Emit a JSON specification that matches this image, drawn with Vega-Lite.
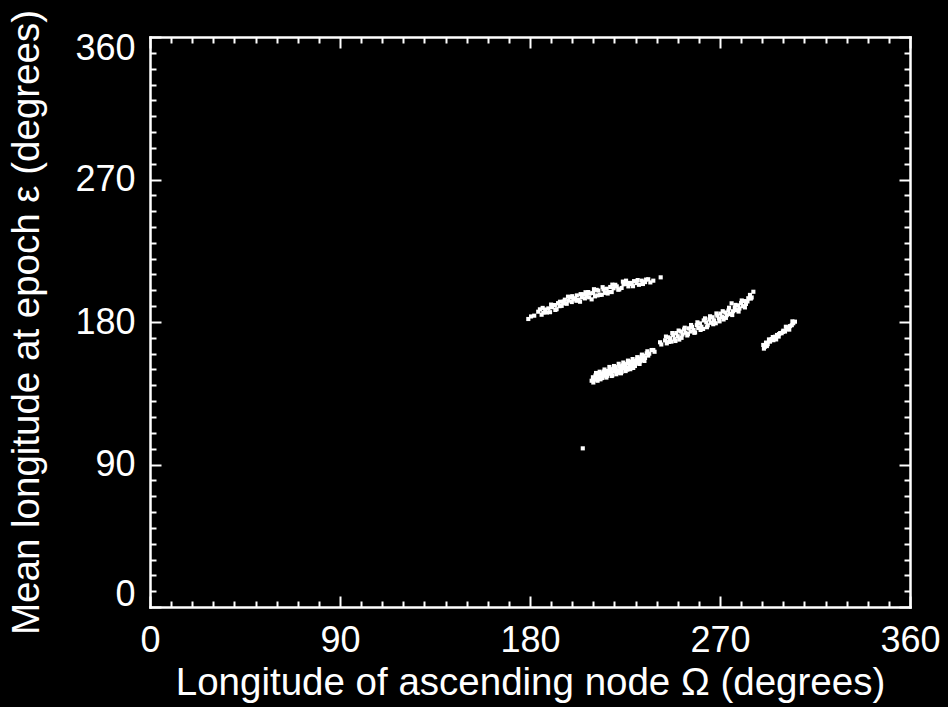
{
  "$schema": "https://vega.github.io/schema/vega-lite/v6.json",
  "width": 760,
  "height": 570,
  "autosize": "none",
  "padding": {"left": 150, "top": 37, "right": 38, "bottom": 100},
  "background": "black",
  "config": {
    "view": {"stroke": null},
    "axis": {
      "domainColor": "white", "domainWidth": 2.5, "domainCap": "square",
      "tickColor": "white", "tickWidth": 2,
      "labelColor": "white", "titleColor": "white",
      "labelFont": "Liberation Sans", "titleFont": "Liberation Sans",
      "labelFontSize": 36, "titleFontSize": 38.5, "titleFontWeight": "normal",
      "grid": false, "labelOverlap": false
    }
  },
  "data": {"values": [
    {"node": 205.0, "eps": 100.2},
    {"node": 179.2, "eps": 181.9}, {"node": 183.9, "eps": 186.5}, {"node": 184.7, "eps": 188.0}, {"node": 185.5, "eps": 184.6},
    {"node": 186.3, "eps": 185.9}, {"node": 187.2, "eps": 187.9}, {"node": 188.7, "eps": 188.6}, {"node": 189.5, "eps": 186.2},
    {"node": 190.4, "eps": 189.3}, {"node": 191.8, "eps": 190.7}, {"node": 192.6, "eps": 188.1}, {"node": 193.3, "eps": 191.9},
    {"node": 194.2, "eps": 192.8}, {"node": 195.0, "eps": 190.2}, {"node": 195.8, "eps": 191.8}, {"node": 196.5, "eps": 194.1},
    {"node": 197.4, "eps": 191.5}, {"node": 198.2, "eps": 193.5}, {"node": 199.0, "eps": 195.6}, {"node": 199.8, "eps": 192.6},
    {"node": 200.5, "eps": 194.3}, {"node": 201.3, "eps": 195.0}, {"node": 202.2, "eps": 196.8}, {"node": 203.0, "eps": 194.0},
    {"node": 203.7, "eps": 192.8}, {"node": 204.5, "eps": 195.6}, {"node": 205.4, "eps": 197.5}, {"node": 206.0, "eps": 194.9},
    {"node": 206.8, "eps": 196.4}, {"node": 207.6, "eps": 198.9}, {"node": 208.4, "eps": 198.1}, {"node": 209.2, "eps": 194.3},
    {"node": 210.0, "eps": 198.3}, {"node": 210.8, "eps": 196.2}, {"node": 211.6, "eps": 200.3}, {"node": 212.4, "eps": 199.8},
    {"node": 213.2, "eps": 197.1}, {"node": 214.0, "eps": 197.2}, {"node": 214.8, "eps": 200.6}, {"node": 215.5, "eps": 198.4},
    {"node": 216.3, "eps": 201.0}, {"node": 217.2, "eps": 199.0}, {"node": 218.0, "eps": 202.1}, {"node": 218.7, "eps": 198.9},
    {"node": 219.6, "eps": 201.3}, {"node": 220.4, "eps": 203.5}, {"node": 221.1, "eps": 202.5}, {"node": 222.3, "eps": 200.6},
    {"node": 223.4, "eps": 201.5}, {"node": 224.3, "eps": 203.8}, {"node": 225.5, "eps": 206.1}, {"node": 226.6, "eps": 202.5},
    {"node": 227.4, "eps": 204.7}, {"node": 228.2, "eps": 204.0}, {"node": 229.3, "eps": 205.8}, {"node": 230.5, "eps": 204.6},
    {"node": 231.6, "eps": 203.5}, {"node": 232.9, "eps": 206.1}, {"node": 234.5, "eps": 205.2}, {"node": 236.0, "eps": 207.0},
    {"node": 238.4, "eps": 206.1}, {"node": 241.9, "eps": 208.2},
    {"node": 180.5, "eps": 183.5}, {"node": 182.0, "eps": 184.0}, {"node": 186.0, "eps": 188.9}, {"node": 188.0, "eps": 186.0},
    {"node": 190.0, "eps": 191.0}, {"node": 192.0, "eps": 187.6}, {"node": 194.0, "eps": 190.0}, {"node": 196.0, "eps": 193.0},
    {"node": 198.0, "eps": 196.0}, {"node": 200.0, "eps": 196.3}, {"node": 202.0, "eps": 193.4}, {"node": 204.0, "eps": 197.6},
    {"node": 206.3, "eps": 198.8}, {"node": 208.0, "eps": 195.6}, {"node": 210.3, "eps": 200.7}, {"node": 212.0, "eps": 196.8},
    {"node": 214.4, "eps": 202.0}, {"node": 216.8, "eps": 198.0}, {"node": 219.0, "eps": 203.6}, {"node": 221.8, "eps": 200.4},
    {"node": 224.0, "eps": 205.5}, {"node": 226.0, "eps": 204.0}, {"node": 228.8, "eps": 202.6}, {"node": 231.0, "eps": 206.5},
    {"node": 233.5, "eps": 204.0}, {"node": 235.0, "eps": 206.8}, {"node": 237.0, "eps": 205.0},
    {"node": 209.2, "eps": 142.9}, {"node": 209.8, "eps": 145.1}, {"node": 210.5, "eps": 143.6}, {"node": 211.0, "eps": 146.2},
    {"node": 211.7, "eps": 144.4}, {"node": 212.3, "eps": 147.0}, {"node": 212.8, "eps": 145.2}, {"node": 213.4, "eps": 143.8},
    {"node": 214.0, "eps": 147.6}, {"node": 214.5, "eps": 146.0}, {"node": 215.1, "eps": 148.7}, {"node": 215.6, "eps": 146.6},
    {"node": 216.2, "eps": 144.9}, {"node": 216.8, "eps": 149.0}, {"node": 217.3, "eps": 147.3}, {"node": 217.9, "eps": 150.1},
    {"node": 218.4, "eps": 148.0}, {"node": 219.0, "eps": 146.3}, {"node": 219.5, "eps": 150.4}, {"node": 220.1, "eps": 148.8},
    {"node": 220.6, "eps": 151.5}, {"node": 221.2, "eps": 149.5}, {"node": 221.7, "eps": 147.9}, {"node": 222.3, "eps": 152.0},
    {"node": 222.8, "eps": 150.3}, {"node": 223.4, "eps": 148.6}, {"node": 223.9, "eps": 152.6}, {"node": 224.5, "eps": 150.9},
    {"node": 225.0, "eps": 153.4}, {"node": 225.6, "eps": 151.3}, {"node": 226.1, "eps": 149.9}, {"node": 226.7, "eps": 154.0},
    {"node": 227.2, "eps": 152.1}, {"node": 227.8, "eps": 155.0}, {"node": 228.3, "eps": 152.8}, {"node": 228.9, "eps": 151.0},
    {"node": 229.4, "eps": 155.3}, {"node": 230.0, "eps": 153.6}, {"node": 230.6, "eps": 156.2}, {"node": 231.1, "eps": 154.3},
    {"node": 231.7, "eps": 157.0}, {"node": 232.2, "eps": 155.2}, {"node": 232.8, "eps": 158.0}, {"node": 233.4, "eps": 156.0},
    {"node": 233.9, "eps": 158.7}, {"node": 234.5, "eps": 157.3}, {"node": 235.3, "eps": 160.2}, {"node": 236.0, "eps": 158.8},
    {"node": 210.0, "eps": 141.8}, {"node": 211.3, "eps": 147.8}, {"node": 212.0, "eps": 142.9}, {"node": 213.0, "eps": 148.6},
    {"node": 214.2, "eps": 144.6}, {"node": 215.3, "eps": 150.0}, {"node": 216.5, "eps": 146.0}, {"node": 217.6, "eps": 151.6},
    {"node": 218.7, "eps": 145.9}, {"node": 219.8, "eps": 152.2}, {"node": 220.9, "eps": 147.0}, {"node": 222.0, "eps": 153.6},
    {"node": 223.1, "eps": 147.6}, {"node": 224.2, "eps": 154.4}, {"node": 225.3, "eps": 149.0}, {"node": 226.4, "eps": 155.6},
    {"node": 227.5, "eps": 150.2}, {"node": 228.6, "eps": 156.6}, {"node": 229.7, "eps": 152.2}, {"node": 230.8, "eps": 157.8},
    {"node": 231.9, "eps": 153.5}, {"node": 233.0, "eps": 159.4}, {"node": 234.2, "eps": 155.4}, {"node": 235.6, "eps": 161.5},
    {"node": 236.5, "eps": 160.0},
    {"node": 237.6, "eps": 162.3}, {"node": 238.4, "eps": 162.3}, {"node": 239.0, "eps": 161.2}, {"node": 241.6, "eps": 167.2},
    {"node": 242.2, "eps": 165.8},
    {"node": 244.0, "eps": 168.4}, {"node": 244.8, "eps": 166.5}, {"node": 245.5, "eps": 170.3}, {"node": 246.3, "eps": 169.7},
    {"node": 247.0, "eps": 167.6}, {"node": 247.8, "eps": 171.8}, {"node": 248.5, "eps": 169.2}, {"node": 249.3, "eps": 173.0},
    {"node": 250.0, "eps": 171.0}, {"node": 250.7, "eps": 168.9}, {"node": 251.5, "eps": 174.0}, {"node": 252.2, "eps": 172.1},
    {"node": 253.0, "eps": 175.3}, {"node": 253.7, "eps": 173.2}, {"node": 254.5, "eps": 171.5}, {"node": 255.2, "eps": 176.0},
    {"node": 256.0, "eps": 174.0}, {"node": 256.7, "eps": 176.9}, {"node": 257.5, "eps": 175.0}, {"node": 258.2, "eps": 173.4},
    {"node": 259.0, "eps": 178.0}, {"node": 259.7, "eps": 176.2}, {"node": 260.5, "eps": 179.1}, {"node": 261.2, "eps": 177.0},
    {"node": 262.0, "eps": 175.6}, {"node": 262.9, "eps": 182.3}, {"node": 263.5, "eps": 179.8}, {"node": 264.2, "eps": 177.9},
    {"node": 265.0, "eps": 181.6}, {"node": 265.7, "eps": 179.5}, {"node": 266.5, "eps": 183.0}, {"node": 267.2, "eps": 181.0},
    {"node": 268.0, "eps": 179.2}, {"node": 268.7, "eps": 184.0}, {"node": 269.5, "eps": 182.2}, {"node": 270.2, "eps": 185.3},
    {"node": 271.0, "eps": 183.1}, {"node": 271.7, "eps": 181.6}, {"node": 272.5, "eps": 186.0}, {"node": 273.2, "eps": 184.3},
    {"node": 274.0, "eps": 187.2}, {"node": 274.7, "eps": 185.0}, {"node": 275.5, "eps": 191.8}, {"node": 276.2, "eps": 186.8},
    {"node": 277.0, "eps": 189.0}, {"node": 277.7, "eps": 187.5}, {"node": 278.5, "eps": 190.5}, {"node": 279.2, "eps": 188.5},
    {"node": 280.0, "eps": 192.0}, {"node": 280.7, "eps": 190.0}, {"node": 281.5, "eps": 193.2}, {"node": 282.3, "eps": 191.4},
    {"node": 283.4, "eps": 195.0}, {"node": 284.2, "eps": 197.1}, {"node": 285.0, "eps": 195.5}, {"node": 285.8, "eps": 199.1},
    {"node": 244.4, "eps": 170.8}, {"node": 245.9, "eps": 167.4}, {"node": 247.4, "eps": 173.0}, {"node": 248.9, "eps": 168.0},
    {"node": 250.4, "eps": 174.6}, {"node": 251.8, "eps": 170.0}, {"node": 253.3, "eps": 176.4}, {"node": 254.8, "eps": 172.4},
    {"node": 256.3, "eps": 178.1}, {"node": 257.8, "eps": 173.2}, {"node": 259.3, "eps": 179.8}, {"node": 260.8, "eps": 175.0},
    {"node": 262.3, "eps": 181.0}, {"node": 263.8, "eps": 176.7}, {"node": 265.3, "eps": 183.6}, {"node": 266.8, "eps": 178.6},
    {"node": 268.3, "eps": 185.4}, {"node": 269.8, "eps": 180.4}, {"node": 271.3, "eps": 186.8}, {"node": 272.8, "eps": 182.6},
    {"node": 274.3, "eps": 189.0}, {"node": 275.8, "eps": 184.4}, {"node": 277.3, "eps": 190.8}, {"node": 278.8, "eps": 186.6},
    {"node": 280.3, "eps": 193.6}, {"node": 281.8, "eps": 189.2}, {"node": 283.0, "eps": 193.0}, {"node": 284.6, "eps": 194.8},
    {"node": 290.5, "eps": 165.5}, {"node": 291.3, "eps": 164.4}, {"node": 291.8, "eps": 167.0}, {"node": 292.6, "eps": 166.0},
    {"node": 293.7, "eps": 167.6}, {"node": 294.5, "eps": 169.2}, {"node": 295.3, "eps": 168.5}, {"node": 296.1, "eps": 170.7},
    {"node": 297.0, "eps": 171.8}, {"node": 297.8, "eps": 170.8}, {"node": 298.5, "eps": 173.0}, {"node": 299.2, "eps": 172.9},
    {"node": 300.0, "eps": 174.5}, {"node": 300.8, "eps": 174.0}, {"node": 301.6, "eps": 175.5}, {"node": 302.4, "eps": 176.0},
    {"node": 303.2, "eps": 177.4}, {"node": 304.0, "eps": 178.0}, {"node": 304.7, "eps": 179.2}, {"node": 305.5, "eps": 180.2},
    {"node": 290.8, "eps": 163.2}, {"node": 292.2, "eps": 164.8}, {"node": 293.2, "eps": 169.0}, {"node": 295.0, "eps": 170.5},
    {"node": 296.6, "eps": 169.0}, {"node": 298.0, "eps": 172.4}, {"node": 299.8, "eps": 173.8}, {"node": 301.2, "eps": 177.0},
    {"node": 302.8, "eps": 175.2}, {"node": 304.3, "eps": 180.4}
  ]},
  "layer": [
    {
      "mark": {"type": "point", "filled": true, "shape": "square", "size": 17, "color": "white", "opacity": 1},
      "encoding": {
        "x": {
          "field": "node", "type": "quantitative",
          "scale": {"domain": [0, 360], "nice": false, "zero": false},
          "axis": {
            "orient": "bottom",
            "values": [0,10,20,30,40,50,60,70,80,90,100,110,120,130,140,150,160,170,180,190,200,210,220,230,240,250,260,270,280,290,300,310,320,330,340,350,360],
            "tickSize": {"condition": {"test": "datum.value % 90 === 0", "value": -11}, "value": -6},
            "labelExpr": "datum.value % 90 === 0 ? datum.label : ''",
            "labelFlush": false,
            "labelPadding": 27,
            "title": "Longitude of ascending node Ω (degrees)",
            "titlePadding": 1
          }
        },
        "y": {
          "field": "eps", "type": "quantitative",
          "scale": {"domain": [0, 360], "nice": false, "zero": false},
          "axis": {
            "orient": "left",
            "values": [0,10,20,30,40,50,60,70,80,90,100,110,120,130,140,150,160,170,180,190,200,210,220,230,240,250,260,270,280,290,300,310,320,330,340,350,360],
            "tickSize": {"condition": {"test": "datum.value % 90 === 0", "value": -11}, "value": -6},
            "labelExpr": "datum.value % 90 === 0 ? datum.label : ''",
            "labelFlush": true,
            "labelFlushOffset": 6,
            "labelPadding": 26,
            "title": "Mean longitude at epoch ε (degrees)",
            "titlePadding": 28
          }
        }
      }
    },
    {
      "mark": {"type": "point", "opacity": 0},
      "encoding": {
        "x": {
          "field": "node", "type": "quantitative",
          "scale": {"domain": [0, 360], "nice": false, "zero": false},
          "axis": {
            "orient": "top",
            "values": [0,10,20,30,40,50,60,70,80,90,100,110,120,130,140,150,160,170,180,190,200,210,220,230,240,250,260,270,280,290,300,310,320,330,340,350,360],
            "tickSize": {"condition": {"test": "datum.value % 90 === 0", "value": -11}, "value": -6},
            "labels": false,
            "title": null
          }
        },
        "y": {
          "field": "eps", "type": "quantitative",
          "scale": {"domain": [0, 360], "nice": false, "zero": false},
          "axis": {
            "orient": "right",
            "values": [0,10,20,30,40,50,60,70,80,90,100,110,120,130,140,150,160,170,180,190,200,210,220,230,240,250,260,270,280,290,300,310,320,330,340,350,360],
            "tickSize": {"condition": {"test": "datum.value % 90 === 0", "value": -11}, "value": -6},
            "labels": false,
            "title": null
          }
        }
      }
    }
  ],
  "resolve": {"axis": {"x": "independent", "y": "independent"}}
}
